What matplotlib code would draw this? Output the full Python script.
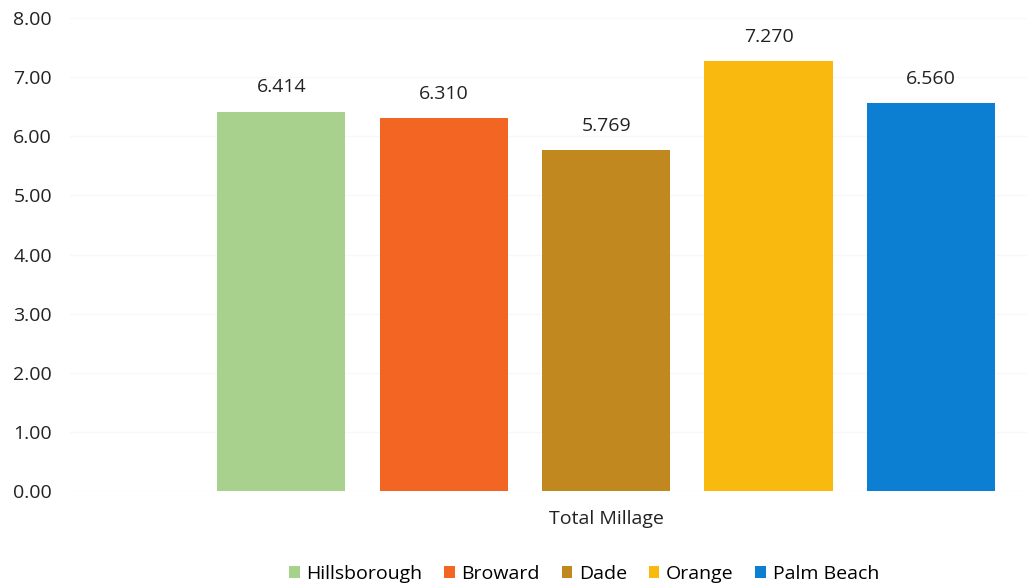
import matplotlib.pyplot as plt
import numpy as np

# data
counties = ['Hillsborough', 'Broward', 'Dade', 'Orange', 'Palm Beach']
millage = [6.414, 6.310, 5.769, 7.270, 6.560]
category = 'Total Millage'
colors = ['#A9D18E', '#F26522', '#C0881E', '#F9B90F', '#0C7FD3']

plt.rcParams['font.family'] = ['Open Sans', 'DejaVu Sans']

fig = plt.figure(figsize=(10.27, 5.88), dpi=100)
ax = fig.add_axes([70 / 1027, 97 / 588, 957 / 1027, 473 / 588])

n = len(counties)
offsets = np.arange(n) - (n - 1) / 2
width = 0.79
for off, val, col, name in zip(offsets, millage, colors, counties):
    ax.bar(off, val, width=width, color=col, label=name, zorder=3)
    ax.annotate(f'{val:.3f}', (off, val), xytext=(0, 11), textcoords='offset points',
                ha='center', va='bottom', fontsize=14, color='#222222')

ax.set_ylim(0, 8)
ax.set_xlim(-3.3, 2.59)
ax.set_yticks(np.arange(0, 9, 1))
ax.set_yticklabels([f'{v:.2f}' for v in np.arange(0, 9, 1)])
ax.set_xticks([0])
ax.set_xticklabels([category])
ax.tick_params(axis='both', length=0, labelsize=14, colors='#222222')
ax.tick_params(axis='y', pad=13)
ax.tick_params(axis='x', pad=14)
ax.grid(axis='y', color='#f8f8f8', linewidth=1, zorder=0)
for s in ax.spines.values():
    s.set_visible(False)

leg = fig.legend(loc='center', bbox_to_anchor=(584 / 1027, 14 / 588), ncol=5, frameon=False,
                 fontsize=14, handlelength=0.55, handleheight=0.55, handletextpad=0.35,
                 columnspacing=1.1)

fig.savefig('out.png', dpi=100)
